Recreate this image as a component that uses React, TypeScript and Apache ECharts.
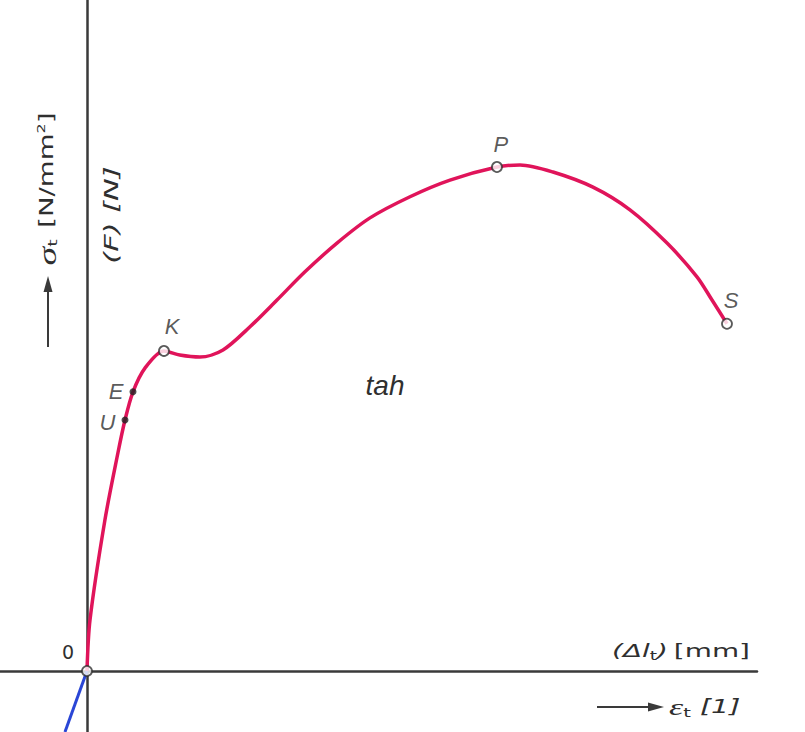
import React, { useEffect, useRef } from "react";
import * as echarts from "echarts";

// stress-strain curve (strain in % of fracture strain, stress in % of ultimate)
const curveX = [0, 0.47, 2.81, 4.84, 5.94, 7.19, 9.06, 12.03, 14.5, 17.66, 21.25, 25.47, 29.69, 34.06, 39.06, 44.22, 50.47, 56.72, 64.06, 67.66, 72.81, 79.06, 84.84, 90.63, 95.31, 97.66, 100];
const curveY = [0, 10.1, 30.0, 43.3, 49.8, 55.4, 60.1, 63.5, 62.7, 62.3, 63.7, 68.3, 73.6, 79.2, 84.9, 89.9, 94.1, 97.4, 100, 100.4, 99.0, 96.0, 91.5, 84.9, 78.2, 73.6, 68.9];

// compression branch (blue)
const compX = [0, -3.44];
const compY = [0, -12.1];

// characteristic points
const pointNames = ["0", "U", "E", "K", "P", "S"];
const pointX = [0, 5.94, 7.19, 12.03, 64.06, 100];
const pointY = [0, 49.8, 55.4, 63.5, 100, 68.9];
const pointHollow = [true, false, false, true, true, true];

const X_MIN = -13.59;
const X_MAX = 104.69;
const Y_MIN = -12.1;
const Y_MAX = 133.13;

export default function App() {
  const ref = useRef<HTMLDivElement>(null);
  useEffect(() => {
    document.body.style.margin = "0";
    const chart = echarts.init(ref.current!, null, { renderer: "svg" });
    const labelPos: Record<string, any> = {
      U: { position: "left", distance: 6, offset: [0, 2] },
      E: { position: "left", distance: 6 },
      K: { position: "top", offset: [8, -4], distance: 4 },
      P: { position: "top", offset: [4, -2], distance: 4 },
      S: { position: "top", offset: [4, -2], distance: 4 },
    };
    const ink = "#2f2f2f";
    const pts = pointNames.map((n, i) => ({
      name: n,
      value: [pointX[i], pointY[i]],
      symbolSize: pointHollow[i] ? 10 : 7,
      itemStyle: pointHollow[i]
        ? { color: "#ffffff", borderColor: ink, borderWidth: 1.8 }
        : { color: "#222222", borderWidth: 0 },
      label:
        n === "0"
          ? { show: false }
          : {
              show: true,
              formatter: n,
              fontStyle: "italic",
              fontFamily: "Liberation Sans",
              fontSize: 22,
              color: ink,
              ...labelPos[n],
            },
    }));
    const txt = { fontFamily: "DejaVu Sans", fill: ink };
    chart.setOption({
      animation: false,
      backgroundColor: "#ffffff",
      grid: { left: 0, right: 48, top: 0, bottom: 0, containLabel: false },
      xAxis: {
        type: "value",
        min: X_MIN,
        max: X_MAX,
        axisLine: { onZero: true, lineStyle: { color: "#3a3a3a", width: 2.5 } },
        axisTick: { show: false },
        axisLabel: { show: false },
        splitLine: { show: false },
      },
      yAxis: {
        type: "value",
        min: Y_MIN,
        max: Y_MAX,
        axisLine: { onZero: true, lineStyle: { color: "#3a3a3a", width: 2.5 } },
        axisTick: { show: false },
        axisLabel: { show: false },
        splitLine: { show: false },
      },
      series: [
        {
          type: "line",
          data: compX.map((x, i) => [x, compY[i]]),
          showSymbol: false,
          lineStyle: { color: "#2a46d6", width: 3 },
          z: 2,
        },
        {
          type: "line",
          data: curveX.map((x, i) => [x, curveY[i]]),
          smooth: 0.3,
          showSymbol: false,
          lineStyle: { color: "#e0145a", width: 3.5 },
          z: 3,
        },
        {
          type: "scatter",
          data: pts,
          z: 5,
        },
      ],
      graphic: [
        { type: "text", x: 68, y: 652, style: { ...txt, text: "0", fontSize: 19, textAlign: "center", textVerticalAlign: "middle" } },
        { type: "text", x: 385, y: 385, style: { fontFamily: "Liberation Sans", fill: ink, text: "tah", fontSize: 28, fontStyle: "italic", textAlign: "center", textVerticalAlign: "middle" } },
        {
          type: "text",
          x: 111,
          y: 215,
          rotation: Math.PI / 2,
          scaleX: 1.6,
          style: { ...txt, text: "(F) [N]", fontSize: 19, fontStyle: "italic", textAlign: "center", textVerticalAlign: "middle" },
        },
        {
          type: "text",
          x: 47,
          y: 189,
          rotation: Math.PI / 2,
          scaleX: 1.45,
          style: {
            ...txt,
            text: "{s|σ}{sub|t}{n| [N/mm}{sup|2}{n|]}",
            textAlign: "center",
            textVerticalAlign: "middle",
            rich: {
              s: { fontSize: 26, fontStyle: "italic", fontFamily: "Liberation Serif", fill: ink },
              sub: { fontSize: 13, fill: ink, fontFamily: "DejaVu Sans", padding: [12, 2, 0, 0] },
              n: { fontSize: 19, fill: ink, fontFamily: "DejaVu Sans" },
              sup: { fontSize: 11, fill: ink, fontFamily: "DejaVu Sans", padding: [0, 0, 12, 0] },
            },
          },
        },
        { type: "line", shape: { x1: 48, y1: 347, x2: 48, y2: 288 }, style: { stroke: "#3a3a3a", lineWidth: 2 } },
        { type: "polygon", shape: { points: [[48, 276], [43.5, 292], [52.5, 292]] }, style: { fill: "#3a3a3a" } },
        {
          type: "text",
          x: 681,
          y: 651,
          scaleX: 1.55,
          style: {
            ...txt,
            text: "{i|(Δl}{sub|t}{i|)} {n|[mm]}",
            textAlign: "center",
            textVerticalAlign: "middle",
            rich: {
              i: { fontSize: 18, fontStyle: "italic", fill: ink, fontFamily: "DejaVu Sans" },
              sub: { fontSize: 12, fill: ink, fontFamily: "DejaVu Sans", padding: [10, 0, 0, 0] },
              n: { fontSize: 18, fill: ink, fontFamily: "DejaVu Sans" },
            },
          },
        },
        { type: "line", shape: { x1: 597, y1: 707, x2: 650, y2: 707 }, style: { stroke: "#3a3a3a", lineWidth: 2 } },
        { type: "polygon", shape: { points: [[664, 707], [648, 702.5], [648, 711.5]] }, style: { fill: "#3a3a3a" } },
        {
          type: "text",
          x: 669,
          y: 707,
          scaleX: 1.5,
          style: {
            ...txt,
            text: "{s|ε}{sub|t}{n| [1]}",
            textAlign: "left",
            textVerticalAlign: "middle",
            rich: {
              s: { fontSize: 24, fontStyle: "italic", fill: ink, fontFamily: "Liberation Serif" },
              sub: { fontSize: 13, fill: ink, fontFamily: "DejaVu Sans", padding: [12, 0, 0, 0] },
              n: { fontSize: 19, fontStyle: "italic", fill: ink, fontFamily: "DejaVu Sans" },
            },
          },
        },
      ],
    });
    return () => chart.dispose();
  }, []);
  return <div ref={ref} style={{ width: 805, height: 732 }} />;
}
